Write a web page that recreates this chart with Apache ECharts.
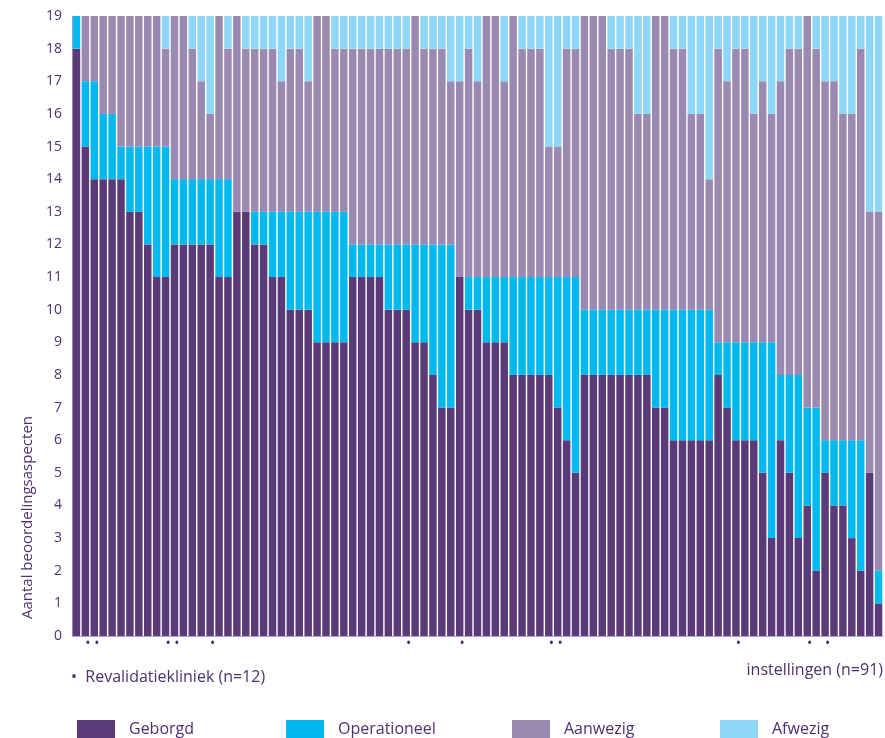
<!DOCTYPE html>
<html>
<head>
<meta charset="utf-8">
<script src="https://cdn.jsdelivr.net/npm/echarts@6/dist/echarts.min.js"></script>
<style>
html,body{margin:0;padding:0;background:#fff;}
#chart{width:885px;height:738px;}
</style>
</head>
<body>
<div id="chart"></div>
<script>
// Values per institution (91 bars)
const geborgd = [18,15,14,14,14,14,13,13,12,11,11,12,12,12,12,12,11,11,13,13,12,12,11,11,10,10,10,9,9,9,9,
  11,11,11,11,10,10,10,9,9,8,7,7,11,10,10,9,9,9,8,8,8,8,8,7,6,5,8,8,8,8,8,8,8,8,7,7,6,6,6,6,6,8,7,6,6,6,5,3,6,5,3,4,2,5,4,4,3,2,5,1];
const operationeel = [1,2,3,2,2,1,2,2,3,4,4,2,2,2,2,2,3,3,0,0,1,1,2,2,3,3,3,4,4,4,4,
  1,1,1,1,2,2,2,3,3,4,5,5,0,1,1,2,2,2,3,3,3,3,3,4,5,6,2,2,2,2,2,2,2,2,3,3,4,4,4,4,4,1,2,3,3,3,4,6,2,3,5,3,5,1,2,2,3,4,0,1];
const aanwezig = [0,2,2,3,3,4,4,4,4,4,3,5,5,4,3,2,5,4,6,5,5,5,5,4,5,5,4,6,6,5,5,
  6,6,6,6,6,6,6,7,6,6,6,5,6,7,6,8,8,6,8,7,7,7,4,4,7,7,9,9,9,8,8,8,6,6,9,9,8,8,6,6,4,9,8,9,9,7,8,7,9,10,10,12,11,11,11,10,10,12,8,11];
const afwezig = [0,0,0,0,0,0,0,0,0,0,1,0,0,1,2,3,0,1,0,1,1,1,1,2,1,1,2,0,0,1,1,
  1,1,1,1,1,1,1,0,1,1,1,2,2,1,2,0,0,2,0,1,1,1,4,4,1,1,0,0,0,1,1,1,3,3,0,0,1,1,3,3,5,1,2,1,1,3,2,3,2,1,1,0,1,2,2,3,3,1,6,6];
// Bars (1-based) marked as Revalidatiekliniek
const revalidatie = [2,3,11,12,16,38,44,54,55,75,83,85];
const categories = geborgd.map((_, i) => String(i + 1));
const yTicks = {min: 0, max: 19, interval: 1};

const colors = {
  Geborgd: '#5b3a78',
  Operationeel: '#00b9f1',
  Aanwezig: '#9a89b0',
  Afwezig: '#8fd7f7'
};
const txt = '#4f2f6e';
const font = "'Open Sans', 'Noto Sans', sans-serif";

const chart = echarts.init(document.getElementById('chart'), null, {renderer: 'canvas'});

function mkSeries(name, data) {
  return {
    name: name, type: 'bar', stack: 'total', data: data,
    barCategoryGap: '16%',
    itemStyle: {color: colors[name]},
    emphasis: {disabled: true}
  };
}
function mkLegend(name, left) {
  return {
    data: [name], left: left, top: 715, itemWidth: 38, itemHeight: 19,
    icon: 'rect', selectedMode: false,
    textStyle: {color: txt, fontSize: 16, fontFamily: font, padding: [0, 0, 0, 9]}
  };
}

chart.setOption({
  animation: false,
  grid: {left: 72, right: 2, top: 16, bottom: 102, containLabel: false},
  legend: [
    mkLegend('Geborgd', 72),
    mkLegend('Operationeel', 281),
    mkLegend('Aanwezig', 507),
    mkLegend('Afwezig', 715)
  ],
  xAxis: {
    type: 'category', data: categories,
    axisLine: {show: true, lineStyle: {color: '#b7a7c9', width: 1}},
    axisTick: {show: false},
    axisLabel: {
      interval: 0, margin: 1, color: txt, fontSize: 14, fontFamily: font,
      padding: [0, 0, 0, 5],
      formatter: function (v) { return revalidatie.indexOf(Number(v)) >= 0 ? '•' : ''; }
    }
  },
  yAxis: {
    type: 'value', min: yTicks.min, max: yTicks.max, interval: yTicks.interval,
    axisLine: {show: true, lineStyle: {color: '#b7a7c9', width: 1}},
    axisTick: {show: false},
    splitLine: {show: false},
    axisLabel: {color: txt, fontSize: 14, fontFamily: font, margin: 10}
  },
  graphic: [
    {
      type: 'text', left: 20, top: 416, rotation: Math.PI / 2,
      style: {text: 'Aantal beoordelingsaspecten', fill: txt, fontSize: 15, fontFamily: font}
    },
    {
      type: 'text', left: 71, top: 669,
      style: {text: '•  Revalidatiekliniek (n=12)', fill: txt, fontSize: 16, fontFamily: font}
    },
    {
      type: 'text', right: 2, top: 662,
      style: {text: 'instellingen (n=91)', fill: txt, fontSize: 16, fontFamily: font}
    }
  ],
  series: [
    mkSeries('Geborgd', geborgd),
    mkSeries('Operationeel', operationeel),
    mkSeries('Aanwezig', aanwezig),
    mkSeries('Afwezig', afwezig)
  ]
});
</script>
</body>
</html>
